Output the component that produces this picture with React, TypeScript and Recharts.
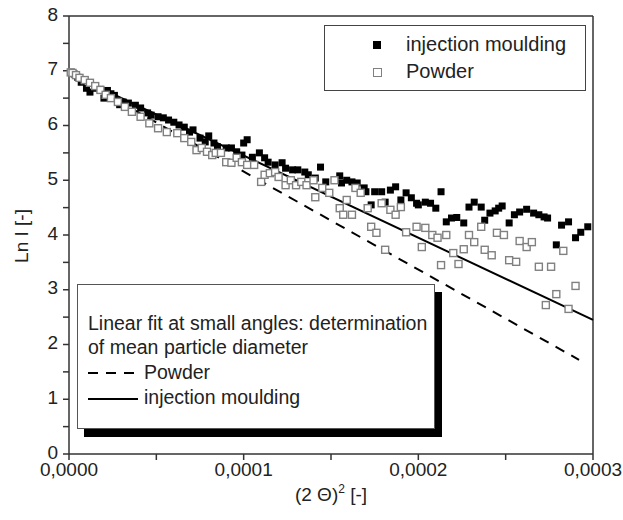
import React from 'react';
import { ComposedChart, Scatter, Line, XAxis, YAxis, ReferenceLine } from 'recharts';

// x = (2θ)² in units of 1e-4, y = Ln I
const mouldingPoints: [number, number][] = [
  [0.01, 6.97], [0.03, 6.94], [0.05, 6.88], [0.07, 6.79], [0.10, 6.68], [0.12, 6.61],
  [0.15, 6.68], [0.18, 6.66], [0.20, 6.50], [0.22, 6.64], [0.24, 6.58], [0.26, 6.55],
  [0.29, 6.38], [0.31, 6.43], [0.34, 6.41], [0.38, 6.37], [0.41, 6.32], [0.45, 6.23],
  [0.47, 6.19], [0.51, 6.16], [0.54, 6.14], [0.57, 6.10], [0.60, 6.06], [0.63, 6.01],
  [0.66, 5.97], [0.69, 5.88], [0.71, 5.92], [0.75, 5.77], [0.78, 5.70], [0.80, 5.81],
  [0.83, 5.68], [0.85, 5.61], [0.90, 5.59], [0.93, 5.59], [0.96, 5.52], [0.99, 5.46],
  [1.00, 5.68], [1.02, 5.74], [1.05, 5.42], [1.09, 5.50], [1.12, 5.41], [1.14, 5.33],
  [1.18, 5.28], [1.22, 5.32], [1.24, 5.22], [1.28, 5.19], [1.31, 5.19], [1.35, 5.15],
  [1.37, 5.10], [1.41, 5.04], [1.44, 5.24], [1.47, 4.97], [1.52, 5.00], [1.55, 5.08],
  [1.56, 4.95], [1.59, 5.00], [1.62, 4.97], [1.65, 4.95], [1.69, 4.86], [1.70, 4.79],
  [1.73, 4.55], [1.75, 4.79], [1.79, 4.79], [1.81, 4.60], [1.84, 4.82], [1.87, 4.88],
  [1.90, 4.64], [1.93, 4.77], [1.96, 4.68], [1.99, 4.58], [2.00, 4.55], [2.04, 4.60],
  [2.07, 4.58], [2.10, 4.49], [2.13, 4.79], [2.16, 4.24], [2.19, 4.31], [2.22, 4.32],
  [2.26, 4.22], [2.29, 4.51], [2.32, 4.60], [2.36, 4.51], [2.38, 4.27], [2.41, 4.40],
  [2.44, 4.44], [2.46, 4.49], [2.48, 4.53], [2.52, 4.22], [2.55, 4.37], [2.58, 4.42],
  [2.62, 4.47], [2.66, 4.40], [2.69, 4.37], [2.72, 4.33], [2.74, 4.31], [2.79, 3.82],
  [2.82, 4.18], [2.86, 4.24], [2.90, 3.95], [2.93, 4.05], [2.97, 4.15],
];

const powderPoints: [number, number][] = [
  [0.01, 6.97], [0.02, 6.96], [0.04, 6.92], [0.06, 6.87], [0.09, 6.83], [0.12, 6.78],
  [0.15, 6.72], [0.18, 6.65], [0.21, 6.56], [0.24, 6.50], [0.28, 6.43], [0.32, 6.34],
  [0.36, 6.25], [0.41, 6.16], [0.46, 6.04], [0.51, 5.95], [0.56, 5.88], [0.62, 5.86],
  [0.66, 5.77], [0.70, 5.70], [0.73, 5.55], [0.76, 5.59], [0.79, 5.52], [0.82, 5.46],
  [0.84, 5.50], [0.87, 5.50], [0.90, 5.33], [0.93, 5.32], [0.96, 5.41], [0.99, 5.33],
  [1.02, 5.28], [1.06, 5.28], [1.10, 4.97], [1.12, 5.10], [1.15, 5.13], [1.18, 5.15],
  [1.20, 5.06], [1.24, 4.91], [1.27, 5.00], [1.30, 4.91], [1.33, 4.97], [1.36, 4.91],
  [1.40, 5.00], [1.41, 4.69], [1.45, 4.86], [1.49, 4.77], [1.52, 5.00], [1.55, 4.49],
  [1.57, 4.37], [1.59, 4.64], [1.62, 4.37], [1.64, 4.86], [1.67, 4.77], [1.71, 4.49],
  [1.73, 4.15], [1.76, 4.04], [1.79, 4.58], [1.81, 3.73], [1.84, 4.46], [1.87, 4.37],
  [1.90, 4.51], [1.93, 4.05], [1.99, 4.15], [2.02, 3.78], [2.04, 4.13], [2.08, 4.00],
  [2.11, 3.95], [2.13, 3.45], [2.16, 4.00], [2.20, 3.67], [2.23, 3.47], [2.26, 3.74],
  [2.29, 4.00], [2.32, 3.87], [2.36, 4.15], [2.38, 3.73], [2.42, 3.63], [2.45, 4.04],
  [2.49, 4.00], [2.52, 3.54], [2.56, 3.51], [2.58, 3.89], [2.62, 3.78], [2.65, 3.87],
  [2.69, 3.42], [2.73, 2.72], [2.76, 3.42], [2.79, 2.92], [2.83, 3.71], [2.86, 2.65],
  [2.90, 3.07],
];

// linear fits at small angles
const powderFit: [number, number][] = [[0, 6.95], [2.92, 1.72]];
const mouldingFit: [number, number][] = [[0, 6.95], [3.0, 2.45]];

const xTicks = [0, 0.5, 1, 1.5, 2, 2.5, 3];
const yTicks = [0, 0.5, 1, 1.5, 2, 2.5, 3, 3.5, 4, 4.5, 5, 5.5, 6, 6.5, 7, 7.5, 8];
const X_MAX = 3;
const Y_MAX = 8;

const toRows = (pts: [number, number][]) => pts.map(([x, y]) => ({ x, y }));

const FilledSquare = (p: any) => (
  <rect x={p.cx - 3.5} y={p.cy - 3.5} width={7} height={7} fill="#000" />
);
const OpenSquare = (p: any) => (
  <rect x={p.cx - 3.5} y={p.cy - 3.5} width={7} height={7} fill="#fff" stroke="#808080" strokeWidth={1.4} />
);

const FONT = '"Liberation Sans", Arial, sans-serif';
const axisColor = '#333';

const fmtX = (v: number) => (Number.isInteger(v) ? (v / 10000).toFixed(4).replace('.', ',') : '');
const fmtY = (v: number) => (Number.isInteger(v) ? String(v) : '');

export default function App() {
  return (
    <div style={{ position: 'absolute', left: 0, top: 0, width: 623, height: 520, background: '#fff', fontFamily: FONT, color: '#222' }}>
      <ComposedChart width={623} height={520} margin={{ top: 16, right: 30, bottom: 0, left: 0 }}>
        <XAxis type="number" dataKey="x" domain={[0, X_MAX]} ticks={xTicks} tickFormatter={fmtX}
          height={66} tickSize={6} tickMargin={3} stroke={axisColor} strokeWidth={1.5}
          tick={{ fill: '#222', fontSize: 19, fontFamily: FONT }} interval={0} />
        <YAxis type="number" dataKey="y" domain={[0, Y_MAX]} ticks={yTicks} tickFormatter={fmtY}
          width={69} tickSize={6} tickMargin={5} stroke={axisColor} strokeWidth={1.5}
          tick={{ fill: '#222', fontSize: 19, fontFamily: FONT, dy: -2 }} interval={0} />

        {/* frame on top and right */}
        <ReferenceLine y={Y_MAX} stroke={axisColor} strokeWidth={1.5} />
        <ReferenceLine x={X_MAX} stroke={axisColor} strokeWidth={1.5} />

        <Line data={toRows(powderFit)} dataKey="y" type="linear" stroke="#000"
          strokeWidth={2} strokeDasharray="10 8" dot={false} activeDot={false} isAnimationActive={false} />
        <Line data={toRows(mouldingFit)} dataKey="y" type="linear" stroke="#000"
          strokeWidth={2} dot={false} activeDot={false} isAnimationActive={false} />
        <Scatter data={toRows(mouldingPoints)} dataKey="y" shape={FilledSquare} isAnimationActive={false} />
        <Scatter data={toRows(powderPoints)} dataKey="y" shape={OpenSquare} isAnimationActive={false} />
      </ComposedChart>

      {/* axis titles */}
      <div style={{ position: 'absolute', left: 22, top: 236, transform: 'translate(-50%, -50%) rotate(-90deg)', fontSize: 19, whiteSpace: 'nowrap' }}>
        Ln I [-]
      </div>
      <div style={{ position: 'absolute', left: 331, top: 494, transform: 'translate(-50%, -50%)', fontSize: 19, whiteSpace: 'nowrap' }}>
        (2 Θ)<sup style={{ fontSize: 12 }}>2</sup> [-]
      </div>

      {/* series legend */}
      <div style={{ position: 'absolute', left: 324, top: 25, width: 260, height: 64, border: '1.5px solid #444', background: '#fff', fontSize: 20 }}>
        <div style={{ position: 'absolute', left: 48, top: 15, width: 8, height: 8, background: '#000' }} />
        <div style={{ position: 'absolute', left: 81, top: 6, lineHeight: '24px' }}>injection moulding</div>
        <div style={{ position: 'absolute', left: 48, top: 42, width: 7, height: 7, border: '1.4px solid #808080' }} />
        <div style={{ position: 'absolute', left: 81, top: 33, lineHeight: '24px' }}>Powder</div>
      </div>

      {/* fit legend with drop shadow */}
      <div style={{ position: 'absolute', left: 77, top: 284, width: 356, height: 143, border: '1.5px solid #555', background: '#fff', boxShadow: '7px 8px 0 #000', fontSize: 19.5, lineHeight: '25px' }}>
        <div style={{ position: 'absolute', left: 10, top: 26 }}>Linear fit at small angles: determination</div>
        <div style={{ position: 'absolute', left: 10, top: 50 }}>of mean particle diameter</div>
        <svg style={{ position: 'absolute', left: 10, top: 86 }} width={50} height={4}>
          <line x1={0} y1={2} x2={50} y2={2} stroke="#000" strokeWidth={2} strokeDasharray="10 8" />
        </svg>
        <div style={{ position: 'absolute', left: 66, top: 75 }}>Powder</div>
        <svg style={{ position: 'absolute', left: 10, top: 112 }} width={50} height={4}>
          <line x1={0} y1={2} x2={50} y2={2} stroke="#000" strokeWidth={2} />
        </svg>
        <div style={{ position: 'absolute', left: 66, top: 100 }}>injection moulding</div>
      </div>
    </div>
  );
}
